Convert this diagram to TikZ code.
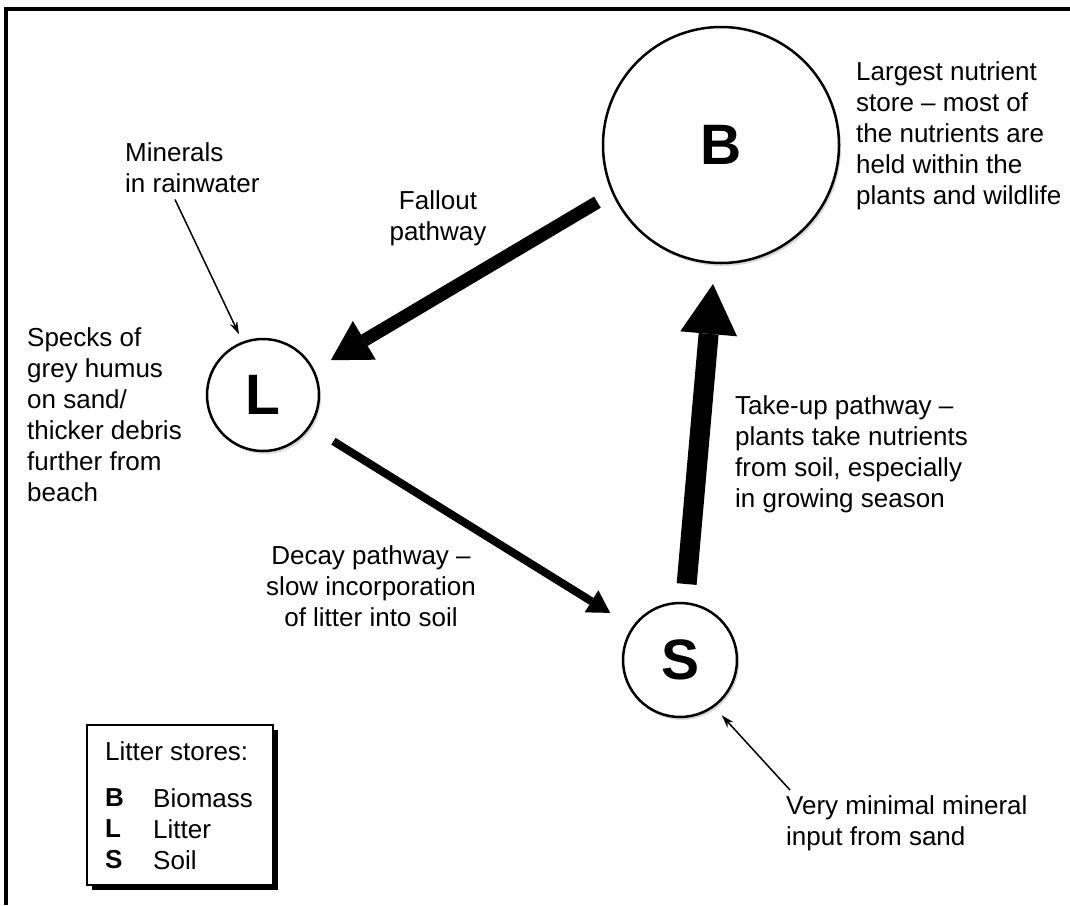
\documentclass[tikz,border=0pt]{standalone}
\usepackage{fontspec}
\setmainfont{Liberation Sans}
\usetikzlibrary{arrows.meta,calc,shadows}

\begin{document}
\begin{tikzpicture}[x=1pt, y=-1pt,
    every node/.style={inner sep=0pt},
    note/.style={font=\fontsize{26}{31}\selectfont, align=left, anchor=north west},
    store/.style={circle, draw, line width=2.5pt, fill=white,
      font=\fontsize{57}{57}\selectfont\bfseries,
      drop shadow={opacity=0.3, shadow xshift=2pt, shadow yshift=-3pt}},
    fallout/.style={line width=13pt, -{Triangle[length=39pt, width=45pt, line width=0pt]}},
    takeup/.style={line width=20pt, -{Triangle[length=50pt, width=57pt, line width=0pt]}},
    decay/.style={line width=8pt, -{Triangle[length=22pt, width=26pt, line width=0pt]}},
    pointer/.style={line width=1.5pt, -{Stealth[length=13pt, width=8pt]}}]
    \useasboundingbox (0,0) rectangle (1070,905);
    \draw[line width=4pt] (6,905) -- (6,9) -- (1070,9);
    % stores
    \node[store, minimum size=236pt] (B) at (721,145) {B};
    \node[store, minimum size=112pt] (L) at (263,395) {L};
    \node[store, minimum size=114pt] (S) at (680,660) {S};
    % notes
    \node[note] (bnote) at (856,61) {Largest nutrient\\store -- most of\\the nutrients are\\held within the\\plants and wildlife};
    \node[note] (rain) at (125,142) {Minerals\\in rainwater};
    \node[note, align=center, anchor=north] (fallnote) at (438,190) {Fallout\\pathway};
    \node[note] (lnote) at (27,327) {Specks of\\grey humus\\on sand/\\thicker debris\\further from\\beach};
    \node[note] (upnote) at (735,395) {Take-up pathway --\\plants take nutrients\\from soil, especially\\in growing season};
    \node[note, align=center, anchor=north] (decaynote) at (371,545) {Decay pathway --\\slow incorporation\\of litter into soil};
    \node[note] (sandnote) at (786,795) {Very minimal mineral\\input from sand};
    % legend
    \node[draw, line width=1.5pt, fill=white, minimum width=186pt, minimum height=160pt, anchor=north west,
      drop shadow={fill=black, opacity=1, shadow xshift=5pt, shadow yshift=-5pt}] (legend) at (86,724) {};
    \node[note] (legtitle) at (105,741) {Litter stores:};
    \node[note] (legkey) at (105,788) {\textbf{B}\\\textbf{L}\\\textbf{S}};
    \node[note] (legname) at (153,788) {Biomass\\Litter\\Soil};
    % pathways
    \draw[fallout, shorten <=17pt, shorten >=19pt] (B.204) -- (L.26);
    \draw[takeup, shorten <=18pt, shorten >=20pt] (S.85) -- (B.267);
    \draw[decay, shorten <=27pt, shorten >=26pt] (L.-34) -- (S.145);
    \draw[pointer, shorten >=8pt] ($(rain.south west)+(50,7)$) -- (L.111);
    \draw[pointer, shorten >=11pt] ($(sandnote.north west)+(4,-5)$) -- (S.-54);
\end{tikzpicture}
\end{document}
